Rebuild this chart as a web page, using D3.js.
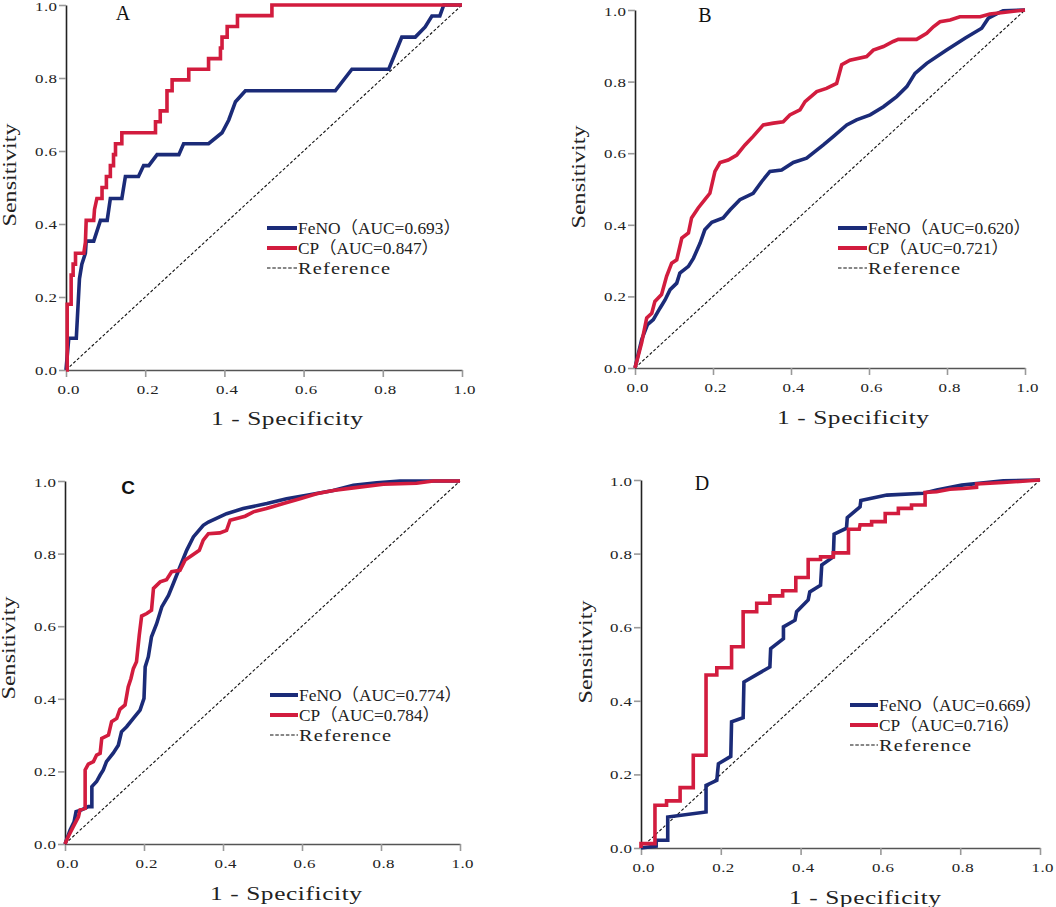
<!DOCTYPE html>
<html><head><meta charset="utf-8">
<script src="https://cdn.jsdelivr.net/npm/d3@7"></script>
<style>
html,body{margin:0;padding:0;background:#fff;}
svg{display:block;}
</style></head>
<body>
<svg id="chart" width="1056" height="907"></svg>
<script>
// ---------- DATA ----------
const tickValues = [0, 0.2, 0.4, 0.6, 0.8, 1.0];
const panelLetters = ["A", "B", "C", "D"];
const seriesNames = ["FeNO", "CP", "Reference"];
const fenoAUC = ["0.693", "0.620", "0.774", "0.669"];
const cpAUC = ["0.847", "0.721", "0.784", "0.716"];
const xTitle = "1 - Specificity";
const yTitle = "Sensitivity";

// [1 - specificity, sensitivity]
const fenoA = [[0,0],[0.007,0.087],[0.026,0.087],[0.034,0.25],[0.040,0.29],[0.049,0.32],[0.051,0.353],[0.070,0.353],[0.087,0.41],[0.104,0.41],[0.108,0.44],[0.112,0.47],[0.141,0.47],[0.150,0.53],[0.183,0.53],[0.196,0.56],[0.209,0.56],[0.230,0.59],[0.285,0.59],[0.297,0.62],[0.360,0.62],[0.394,0.65],[0.411,0.685],[0.428,0.735],[0.453,0.765],[0.680,0.765],[0.722,0.824],[0.815,0.824],[0.836,0.88],[0.848,0.912],[0.882,0.912],[0.907,0.94],[0.924,0.97],[0.944,0.97],[0.954,1],[1,1]];
const cpA = [[0,0],[0.003,0],[0.003,0.18],[0.013,0.18],[0.013,0.26],[0.018,0.26],[0.018,0.29],[0.024,0.29],[0.024,0.32],[0.045,0.32],[0.049,0.35],[0.051,0.41],[0.070,0.41],[0.072,0.44],[0.078,0.47],[0.091,0.47],[0.091,0.50],[0.102,0.50],[0.102,0.53],[0.112,0.53],[0.112,0.56],[0.120,0.56],[0.120,0.59],[0.125,0.59],[0.125,0.62],[0.141,0.62],[0.141,0.65],[0.226,0.65],[0.226,0.68],[0.238,0.68],[0.238,0.71],[0.255,0.71],[0.255,0.765],[0.268,0.765],[0.268,0.795],[0.310,0.795],[0.310,0.824],[0.360,0.824],[0.360,0.853],[0.390,0.853],[0.390,0.882],[0.394,0.882],[0.394,0.912],[0.407,0.912],[0.407,0.941],[0.433,0.941],[0.433,0.971],[0.520,0.971],[0.520,1],[1,1]];

const fenoB = [[0,0],[0.017,0.079],[0.032,0.121],[0.047,0.135],[0.064,0.167],[0.077,0.19],[0.09,0.219],[0.107,0.237],[0.115,0.265],[0.137,0.284],[0.15,0.307],[0.167,0.349],[0.179,0.386],[0.197,0.407],[0.226,0.419],[0.244,0.442],[0.269,0.47],[0.303,0.488],[0.325,0.521],[0.346,0.549],[0.376,0.553],[0.406,0.574],[0.44,0.586],[0.483,0.623],[0.509,0.647],[0.543,0.679],[0.568,0.693],[0.603,0.707],[0.637,0.73],[0.671,0.758],[0.697,0.786],[0.718,0.823],[0.748,0.851],[0.799,0.888],[0.846,0.921],[0.889,0.949],[0.906,0.977],[0.927,0.989],[0.944,0.998],[1,1]];
const cpB = [[0,0],[0.017,0.07],[0.03,0.14],[0.043,0.153],[0.051,0.186],[0.068,0.205],[0.081,0.256],[0.094,0.293],[0.107,0.302],[0.12,0.363],[0.137,0.377],[0.145,0.419],[0.162,0.447],[0.179,0.47],[0.192,0.488],[0.205,0.549],[0.218,0.574],[0.239,0.581],[0.261,0.595],[0.282,0.623],[0.303,0.647],[0.329,0.679],[0.355,0.684],[0.38,0.688],[0.397,0.707],[0.423,0.721],[0.436,0.744],[0.466,0.772],[0.491,0.781],[0.517,0.795],[0.53,0.847],[0.551,0.86],[0.594,0.87],[0.611,0.888],[0.637,0.898],[0.662,0.912],[0.675,0.918],[0.722,0.918],[0.748,0.935],[0.765,0.953],[0.782,0.967],[0.808,0.972],[0.833,0.981],[0.885,0.981],[0.91,0.989],[0.944,0.993],[1,1]];

const fenoC = [[0,0],[0.013,0.039],[0.023,0.061],[0.028,0.089],[0.042,0.094],[0.059,0.103],[0.068,0.103],[0.068,0.158],[0.08,0.172],[0.089,0.19],[0.097,0.204],[0.105,0.227],[0.122,0.25],[0.135,0.272],[0.143,0.309],[0.156,0.323],[0.173,0.346],[0.19,0.369],[0.2,0.401],[0.203,0.488],[0.211,0.516],[0.219,0.571],[0.232,0.607],[0.245,0.653],[0.262,0.685],[0.274,0.717],[0.291,0.763],[0.308,0.809],[0.325,0.846],[0.35,0.878],[0.363,0.887],[0.409,0.91],[0.451,0.924],[0.511,0.938],[0.561,0.951],[0.612,0.961],[0.679,0.974],[0.73,0.988],[0.789,0.995],[0.848,1.0],[1,1]];
const cpC = [[0,0],[0.008,0.02],[0.021,0.048],[0.034,0.075],[0.038,0.094],[0.051,0.098],[0.051,0.204],[0.059,0.22],[0.072,0.227],[0.08,0.245],[0.089,0.25],[0.093,0.291],[0.11,0.3],[0.118,0.337],[0.131,0.346],[0.139,0.371],[0.152,0.383],[0.16,0.433],[0.167,0.456],[0.173,0.483],[0.181,0.502],[0.188,0.575],[0.194,0.628],[0.207,0.635],[0.219,0.644],[0.224,0.704],[0.241,0.722],[0.257,0.728],[0.27,0.75],[0.291,0.754],[0.304,0.782],[0.321,0.795],[0.34,0.809],[0.35,0.837],[0.363,0.855],[0.392,0.857],[0.409,0.864],[0.418,0.892],[0.456,0.903],[0.477,0.915],[0.51,0.924],[0.553,0.938],[0.595,0.951],[0.637,0.965],[0.679,0.974],[0.73,0.981],[0.806,0.991],[0.89,0.994],[0.932,1.0],[1,1]];

const fenoD = [[0,0],[0.038,0.005],[0.038,0.021],[0.067,0.021],[0.067,0.084],[0.163,0.098],[0.163,0.17],[0.19,0.184],[0.194,0.229],[0.225,0.249],[0.227,0.343],[0.256,0.354],[0.258,0.451],[0.323,0.492],[0.325,0.542],[0.357,0.569],[0.357,0.601],[0.386,0.619],[0.39,0.642],[0.419,0.674],[0.423,0.696],[0.45,0.714],[0.453,0.769],[0.482,0.791],[0.484,0.853],[0.515,0.869],[0.517,0.898],[0.549,0.927],[0.551,0.944],[0.616,0.959],[0.708,0.964],[0.741,0.973],[0.804,0.986],[0.908,0.998],[1,1]];
const cpD = [[0,0],[0,0.012],[0.035,0.012],[0.035,0.116],[0.064,0.116],[0.064,0.128],[0.098,0.128],[0.098,0.164],[0.131,0.164],[0.131,0.252],[0.163,0.252],[0.163,0.47],[0.19,0.47],[0.19,0.49],[0.227,0.49],[0.227,0.547],[0.256,0.547],[0.256,0.642],[0.29,0.642],[0.29,0.665],[0.323,0.665],[0.323,0.685],[0.355,0.685],[0.355,0.699],[0.388,0.699],[0.388,0.735],[0.419,0.735],[0.419,0.784],[0.45,0.784],[0.45,0.791],[0.482,0.791],[0.482,0.802],[0.52,0.802],[0.52,0.866],[0.547,0.866],[0.549,0.878],[0.578,0.878],[0.578,0.887],[0.612,0.887],[0.612,0.909],[0.645,0.909],[0.645,0.923],[0.678,0.923],[0.678,0.932],[0.712,0.932],[0.712,0.966],[0.741,0.968],[0.774,0.975],[0.808,0.977],[0.841,0.98],[0.841,0.989],[0.908,0.993],[1,1]];

const fenoSeries = [fenoA, fenoB, fenoC, fenoD];
const cpSeries = [cpA, cpB, cpC, cpD];

// ---------- LAYOUT ----------
const layout = [
  {x0:66, x1:462, yB:370, yT:5, xt:[287,418], yt:[10,175], lt:[123,13], lg:[267,297,228]},
  {x0:635, x1:1025, yB:368, yT:10, xt:[853,417], yt:[579,177], lt:[705,15], lg:[838,867,228]},
  {x0:65, x1:460, yB:844, yT:481, xt:[286,893], yt:[9,648], lt:[128,487], lg:[270,298,695]},
  {x0:641, x1:1040, yB:848, yT:480, xt:[865,897], yt:[586,652], lt:[702,483], lg:[850,878,705]}
];
const BLUE = "#1b2b78", RED = "#d21c3e";
const SERIF = "'Liberation Serif','DejaVu Serif','Noto Sans CJK SC',serif";
const CJK = "'Liberation Serif','Noto Sans CJK SC',serif";

const svg = d3.select("#chart");
const fmt = d3.format(".1f");

// widen a text to a target width: horizontal scale (capped) + spacing for the rest
function fitText(node, target, maxS, base) {
  const w = node.getComputedTextLength();
  const s = Math.min(target / w, maxS);
  const tl = target / s;
  if (tl > w + 0.5) {
    node.setAttribute("textLength", tl);
    node.setAttribute("lengthAdjust", "spacing");
  }
  const x = +node.getAttribute("x") || 0, y = +node.getAttribute("y") || 0;
  node.setAttribute("x", 0); node.setAttribute("y", 0);
  node.setAttribute("transform", `${base || ""} translate(${x},${y}) scale(${s},1)`);
}

layout.forEach((L, i) => {
  const g = svg.append("g");
  const x = d3.scaleLinear().domain([0,1]).range([L.x0, L.x1]);
  const y = d3.scaleLinear().domain([0,1]).range([L.yB, L.yT]);

  // axes
  const xAxis = d3.axisBottom(x).tickValues(tickValues).tickFormat(fmt).tickSize(7).tickSizeOuter(0);
  const yAxis = d3.axisLeft(y).tickValues(tickValues).tickFormat(fmt).tickSize(7).tickSizeOuter(0);
  const gx = g.append("g").attr("transform", `translate(0,${L.yB})`).call(xAxis);
  const gy = g.append("g").attr("transform", `translate(${L.x0},0)`).call(yAxis);
  gx.select(".domain").attr("stroke", "#555").attr("stroke-width", 1.6);
  gy.select(".domain").attr("stroke", "#222").attr("stroke-width", 1.6);
  [gx, gy].forEach(a => {
    a.selectAll(".tick line").attr("stroke", "#999").attr("stroke-width", 1.6);
    a.selectAll(".tick text").attr("font-family", SERIF).attr("font-size", 13)
      .attr("fill", "#222");
  });
  gx.selectAll(".tick text").attr("dy", null).attr("y", 24).attr("x", 2)
    .each(function(){ fitText(this, 22, 1.3); });
  gy.selectAll(".tick text").attr("x", -9).attr("dy", "0.35em")
    .each(function(d){ if (d === 1) this.setAttribute("y", 1); fitText(this, 22, 1.3); });

  // reference diagonal
  g.append("line").attr("x1", x(0)).attr("y1", y(0)).attr("x2", x(1)).attr("y2", y(1))
    .attr("stroke", "#111").attr("stroke-width", 1.1).attr("stroke-dasharray", "3,2");

  const line = d3.line().x(d => x(d[0])).y(d => y(d[1]));
  g.append("path").datum(fenoSeries[i]).attr("d", line)
    .attr("fill", "none").attr("stroke", BLUE).attr("stroke-width", 3.6);
  g.append("path").datum(cpSeries[i]).attr("d", line)
    .attr("fill", "none").attr("stroke", RED).attr("stroke-width", 3.6);

  // titles
  g.append("text").attr("x", L.xt[0]).attr("y", L.xt[1] + 7).attr("text-anchor", "middle")
    .attr("font-family", SERIF).attr("font-size", 19.5).attr("fill", "#222")
    .text(xTitle).each(function(){ fitText(this, 152, 1.3); });
  g.append("text").attr("x", 0).attr("y", 0)
    .attr("text-anchor", "middle").attr("font-family", SERIF).attr("font-size", 18.5).attr("fill", "#222")
    .text(yTitle).each(function(){ fitText(this, 103, 1.3, `translate(${L.yt[0] + 6},${L.yt[1]}) rotate(-90)`); });

  // panel letter
  const isC = panelLetters[i] === "C";
  g.append("text").attr("x", L.lt[0]).attr("y", L.lt[1] + 7).attr("text-anchor", "middle")
    .attr("font-family", isC ? "'Liberation Sans',Arial,sans-serif" : SERIF)
    .attr("font-weight", isC ? "bold" : "normal")
    .attr("font-size", isC ? 19 : 20).attr("fill", "#111").text(panelLetters[i]);

  // legend
  const labels = [`${seriesNames[0]}（AUC=${fenoAUC[i]}）`, `${seriesNames[1]}（AUC=${cpAUC[i]}）`, seriesNames[2]];
  const widths = [163, 141, 92];
  const colors = [BLUE, RED, "#111"];
  labels.forEach((lab, k) => {
    const ry = L.lg[2] + k * 20;
    g.append("line").attr("x1", L.lg[0]).attr("x2", L.lg[1]).attr("y1", ry).attr("y2", ry)
      .attr("stroke", colors[k]).attr("stroke-width", k < 2 ? 4 : 1.1)
      .attr("stroke-dasharray", k < 2 ? null : "3.5,1.8");
    g.append("text").attr("x", L.lg[1] + 1).attr("y", ry + 6)
      .attr("font-family", CJK).attr("font-size", 17).attr("fill", "#222")
      .text(lab).each(function(){ fitText(this, widths[k], 1.2); });
  });
});
</script>
</body></html>
